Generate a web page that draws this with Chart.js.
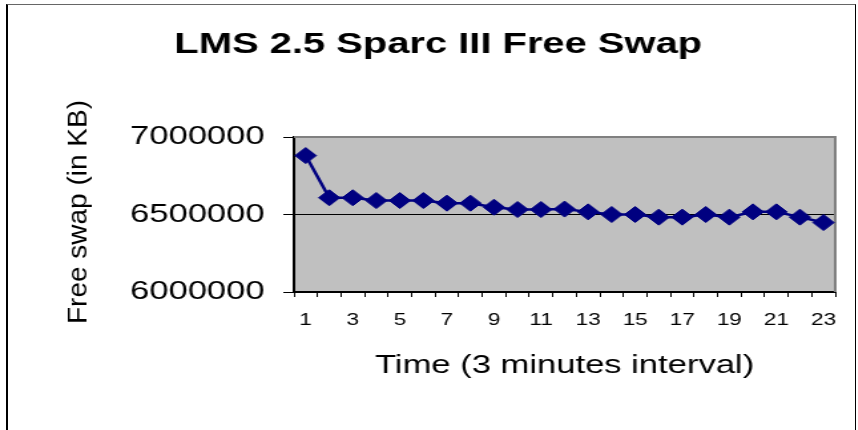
<!DOCTYPE html>
<html>
<head>
<meta charset="utf-8">
<script src="https://cdn.jsdelivr.net/npm/chart.js@4"></script>
<style>
  body { margin: 0; background: #fff; }
  #wrap { position: relative; width: 858px; height: 430px; overflow: hidden; }
  /* the original picture is stretched sideways, so the canvas is too */
  #c { position: absolute; left: 0; top: 0; transform: scaleX(1.33); transform-origin: 0 0; }
  #frame { position: absolute; left: 6px; top: 4px; width: 847px; height: 500px;
           border-left: 2px solid #000; border-top: 1px solid #666; border-right: 1px solid #000; }
</style>
</head>
<body>
<div id="wrap">
  <canvas id="c" width="645" height="430"></canvas>
  <div id="frame"></div>
</div>
<script>
// data
const categories = ['1','2','3','4','5','6','7','8','9','10','11','12','13','14','15','16','17','18','19','20','21','22','23'];
const freeSwap = [6880000, 6608000, 6608000, 6590000, 6590000, 6590000, 6573000, 6573000, 6547000, 6532000, 6532000, 6535000,
                  6517000, 6500000, 6500000, 6483000, 6483000, 6500000, 6483000, 6517000, 6517000, 6483000, 6448000];
const yTicks = [6000000, 6500000, 7000000];

const chartTitle = 'LMS 2.5 Sparc III Free Swap';
const xTitle = 'Time (3 minutes interval)';
const yTitle = 'Free swap (in KB)';

const FONT = '"Liberation Sans", Arial, sans-serif';

// gray plot area, gray frame on top/right, and the titles
const plotArea = {
  id: 'plotArea',
  beforeDraw(chart) {
    const a = chart.chartArea, ctx = chart.ctx;
    ctx.save();
    ctx.fillStyle = '#C0C0C0';
    ctx.fillRect(a.left, a.top, a.right - a.left, a.bottom - a.top);
    ctx.restore();
  },
  beforeDatasetsDraw(chart) {
    const a = chart.chartArea, ctx = chart.ctx;
    ctx.save();
    ctx.strokeStyle = '#808080';
    ctx.lineWidth = 2;
    ctx.beginPath();
    ctx.moveTo(a.left, a.top);
    ctx.lineTo(a.right, a.top);
    ctx.lineTo(a.right, a.bottom);
    ctx.stroke();
    ctx.restore();
  },
  afterDraw(chart) {
    const a = chart.chartArea, ctx = chart.ctx;
    ctx.save();
    ctx.fillStyle = '#000';
    ctx.textBaseline = 'alphabetic';
    ctx.textAlign = 'center';

    ctx.font = 'bold 30px ' + FONT;
    ctx.fillText(chartTitle, 329.5, 53);

    ctx.font = '26px ' + FONT;
    ctx.fillText(xTitle, (a.left + a.right) / 2, 373);

    // y title is narrower than the rest in the original
    ctx.translate(64.5, 212);
    ctx.scale(0.75, 1);
    ctx.rotate(-Math.PI / 2);
    ctx.font = '28px ' + FONT;
    ctx.fillText(yTitle, 0, 0);
    ctx.restore();
  }
};

new Chart(document.getElementById('c'), {
  type: 'line',
  data: {
    labels: categories,
    datasets: [{
      data: freeSwap,
      borderColor: '#000080',
      backgroundColor: '#000080',
      borderWidth: 2.5,
      pointStyle: 'rectRot',
      pointRadius: 8,
      pointBorderWidth: 1,
      tension: 0,
      clip: false
    }]
  },
  options: {
    responsive: false,
    animation: false,
    layout: { padding: { top: 137, right: 17, left: 0, bottom: 0 } },
    plugins: {
      legend: { display: false },
      tooltip: { enabled: false },
      title: { display: false }
    },
    scales: {
      x: {
        offset: true,
        afterFit(scale) { scale.height = 138; },
        grid: { offset: true, drawOnChartArea: false, drawTicks: true, tickLength: 5, color: '#000' },
        border: { color: '#000', width: 2 },
        ticks: {
          autoSkip: false,
          maxRotation: 0,
          padding: 13,
          color: '#000',
          font: { family: FONT, size: 17 },
          callback: (v, i) => (i % 2 === 0 ? categories[i] : '')
        }
      },
      y: {
        min: yTicks[0],
        max: yTicks[yTicks.length - 1],
        afterFit(scale) { scale.width = 221; },
        afterBuildTicks(scale) { scale.ticks = yTicks.map(v => ({ value: v })); },
        grid: { color: '#000', lineWidth: 1, drawTicks: true, tickLength: 8 },
        border: { color: '#000', width: 2 },
        ticks: {
          padding: 14,
          color: '#000',
          font: { family: FONT, size: 26 },
          callback: v => String(v)
        }
      }
    }
  },
  plugins: [plotArea]
});
</script>
</body>
</html>
